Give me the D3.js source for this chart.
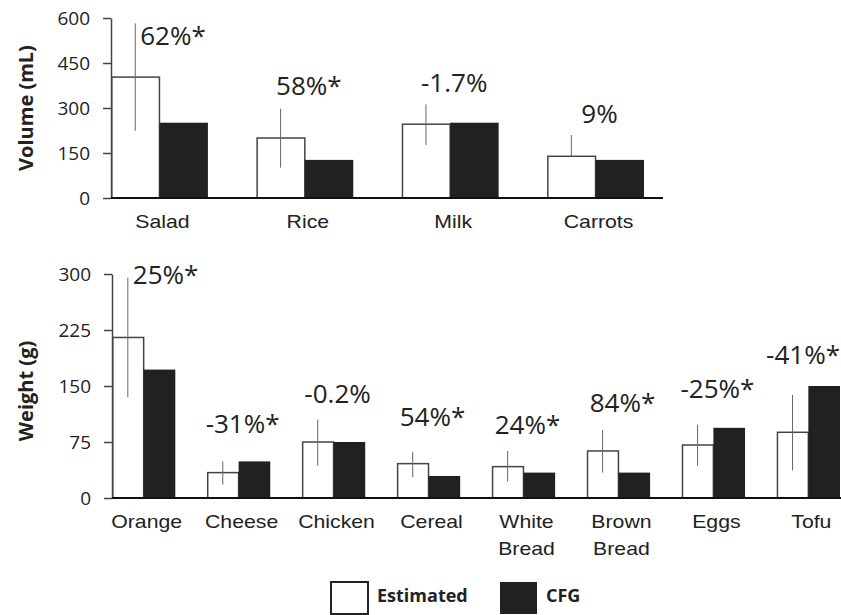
<!DOCTYPE html>
<html>
<head>
<meta charset="utf-8">
<script src="https://cdn.jsdelivr.net/npm/d3@7"></script>
<style>
  body { margin: 0; background: #fff; }
  svg { display: block; }
</style>
</head>
<body>
<svg id="chart" width="841" height="615"></svg>
<script>
// volume panel
const volCats = ["Salad", "Rice", "Milk", "Carrots"];
const volEst = [403, 200, 246, 139];
const volCfg = [251, 127, 251, 127];
const volErrLo = [224, 101, 177, 139];
const volErrHi = [582, 297, 312, 210];
const volPct = ["62%*", "58%*", "-1.7%", "9%"];
const volPctAt = [510, 343, 353, 250];
const volTicks = [0, 150, 300, 450, 600];

// weight panel
const wtCats = ["Orange", "Cheese", "Chicken", "Cereal", "White Bread", "Brown Bread", "Eggs", "Tofu"];
const wtEst = [215, 34, 75, 46, 42, 63, 71, 88];
const wtCfg = [172, 49, 75, 29.5, 34, 34, 94, 150];
const wtErrLo = [135, 18, 43, 28, 22, 34, 43, 37];
const wtErrHi = [295, 49, 105, 62, 63, 91, 98, 138];
const wtPct = ["25%*", "-31%*", "-0.2%", "54%*", "24%*", "84%*", "-25%*", "-41%*"];
const wtPctAt = [287, 87, 127, 97, 86, 115, 134, 180];
const wtTicks = [0, 75, 150, 225, 300];

const seriesNames = ["Estimated", "CFG"];

const W = 841;
const svg = d3.select("#chart");
const ink = "#222";

function drawPanel(p) {
  const x = d3.scaleBand()
    .domain(p.cats)
    .range(p.xRange)
    .paddingInner(1 / 3)
    .paddingOuter(0);
  const y = d3.scaleLinear().domain([0, p.ticks[p.ticks.length - 1]]).range(p.yRange);
  const bw = x.bandwidth() / 2;
  const g = svg.append("g");

  // estimated bars (white)
  g.selectAll(".est")
    .data(p.cats)
    .join("rect")
    .attr("x", d => x(d) + 0.75)
    .attr("y", (d, i) => y(p.est[i]))
    .attr("width", bw - 0.75)
    .attr("height", (d, i) => y(0) - y(p.est[i]))
    .attr("fill", "#fff")
    .attr("stroke", "#444")
    .attr("stroke-width", 1.5);

  // CFG bars (black)
  g.selectAll(".cfg")
    .data(p.cats)
    .join("rect")
    .attr("x", d => x(d) + bw)
    .attr("y", (d, i) => y(p.cfg[i]))
    .attr("width", bw)
    .attr("height", (d, i) => y(0) - y(p.cfg[i]))
    .attr("fill", "#212121");

  // error bars
  g.selectAll(".err")
    .data(p.cats)
    .join("line")
    .attr("x1", d => x(d) + bw / 2)
    .attr("x2", d => x(d) + bw / 2)
    .attr("y1", (d, i) => y(p.lo[i]))
    .attr("y2", (d, i) => y(p.hi[i]))
    .attr("stroke", "#666")
    .attr("stroke-width", 1);

  // y axis
  const ya = g.append("g")
    .attr("transform", "translate(" + p.xRange[0] + ",0)")
    .call(d3.axisLeft(y).tickValues(p.ticks).tickSize(8).tickSizeOuter(0).tickPadding(13));
  ya.select(".domain").attr("stroke", "#444").attr("stroke-width", 1.5);
  ya.selectAll(".tick line").attr("stroke", "#444").attr("stroke-width", 1.5);
  ya.selectAll(".tick text")
    .attr("font-family", "'Open Sans', sans-serif")
    .attr("font-size", 19)
    .attr("fill", ink)
    .attr("dy", "0.36em");

  // x axis line
  g.append("line")
    .attr("x1", p.xRange[0])
    .attr("x2", p.axisEnd)
    .attr("y1", y(0))
    .attr("y2", y(0))
    .attr("stroke", "#111")
    .attr("stroke-width", 2);

  // category labels
  const xa = g.append("g")
    .attr("transform", "translate(3," + (y(0) + 30) + ")")
    .call(d3.axisBottom(x).tickSize(0).tickPadding(0));
  xa.select(".domain").remove();
  xa.selectAll(".tick text")
    .attr("font-family", "'Liberation Sans', Arial, sans-serif")
    .attr("font-size", 18)
    .attr("fill", ink)
    .attr("dy", 0)
    .attr("y", 0)
    .attr("transform", "scale(1.18,1)")
    .each(function (d) {
      const words = d.split(" ");
      const t = d3.select(this).text(null);
      words.forEach((w, k) => {
        t.append("tspan").attr("x", 0).attr("dy", k === 0 ? 0 : 27).text(w);
      });
    });

  // percentage labels
  g.selectAll(".pct")
    .data(p.cats)
    .join("text")
    .attr("font-family", "'Open Sans', sans-serif")
    .attr("font-size", 26)
    .attr("fill", ink)
    .attr("text-anchor", (d, i) => p.pctAt[i] < p.hi[i] ? "start" : "middle")
    .attr("x", (d, i) => p.pctAt[i] < p.hi[i] ? x(d) + bw / 2 + 5 : x(d) + bw + 4)
    .attr("y", (d, i) => y(p.pctAt[i]))
    .text((d, i) => p.pct[i])
    .each(function () {
      // keep labels inside the picture
      const b = this.getBBox();
      const over = b.x + b.width - (W - 1);
      if (over > 0) d3.select(this).attr("x", +d3.select(this).attr("x") - over);
    });

  // axis title
  svg.append("text")
    .attr("transform", "translate(33," + p.titleY + ") rotate(-90)")
    .attr("text-anchor", "middle")
    .attr("font-family", "'Open Sans', sans-serif")
    .attr("font-weight", "bold")
    .attr("font-size", 20)
    .attr("fill", ink)
    .text(p.title);
}

drawPanel({
  cats: volCats, est: volEst, cfg: volCfg, lo: volErrLo, hi: volErrHi,
  pct: volPct, pctAt: volPctAt, ticks: volTicks,
  xRange: [111, 644], yRange: [198, 18], axisEnd: 663,
  title: "Volume (mL)", titleY: 108
});

drawPanel({
  cats: wtCats, est: wtEst, cfg: wtCfg, lo: wtErrLo, hi: wtErrHi,
  pct: wtPct, pctAt: wtPctAt, ticks: wtTicks,
  xRange: [112, 840], yRange: [498, 274], axisEnd: 841,
  title: "Weight (g)", titleY: 391
});

// legend
const legend = svg.append("g");
const legX = d3.scaleOrdinal().domain(seriesNames).range([331, 500]);
legend.selectAll("rect")
  .data(seriesNames)
  .join("rect")
  .attr("x", d => legX(d))
  .attr("y", 582)
  .attr("width", 37)
  .attr("height", 32)
  .attr("fill", (d, i) => i === 0 ? "#fff" : "#212121")
  .attr("stroke", (d, i) => i === 0 ? ink : "none")
  .attr("stroke-width", 2);
legend.selectAll("text")
  .data(seriesNames)
  .join("text")
  .attr("x", d => legX(d) + 46)
  .attr("y", 602)
  .attr("font-family", "'Open Sans', sans-serif")
  .attr("font-weight", "bold")
  .attr("font-size", 18)
  .attr("fill", ink)
  .text(d => d);
</script>
</body>
</html>
